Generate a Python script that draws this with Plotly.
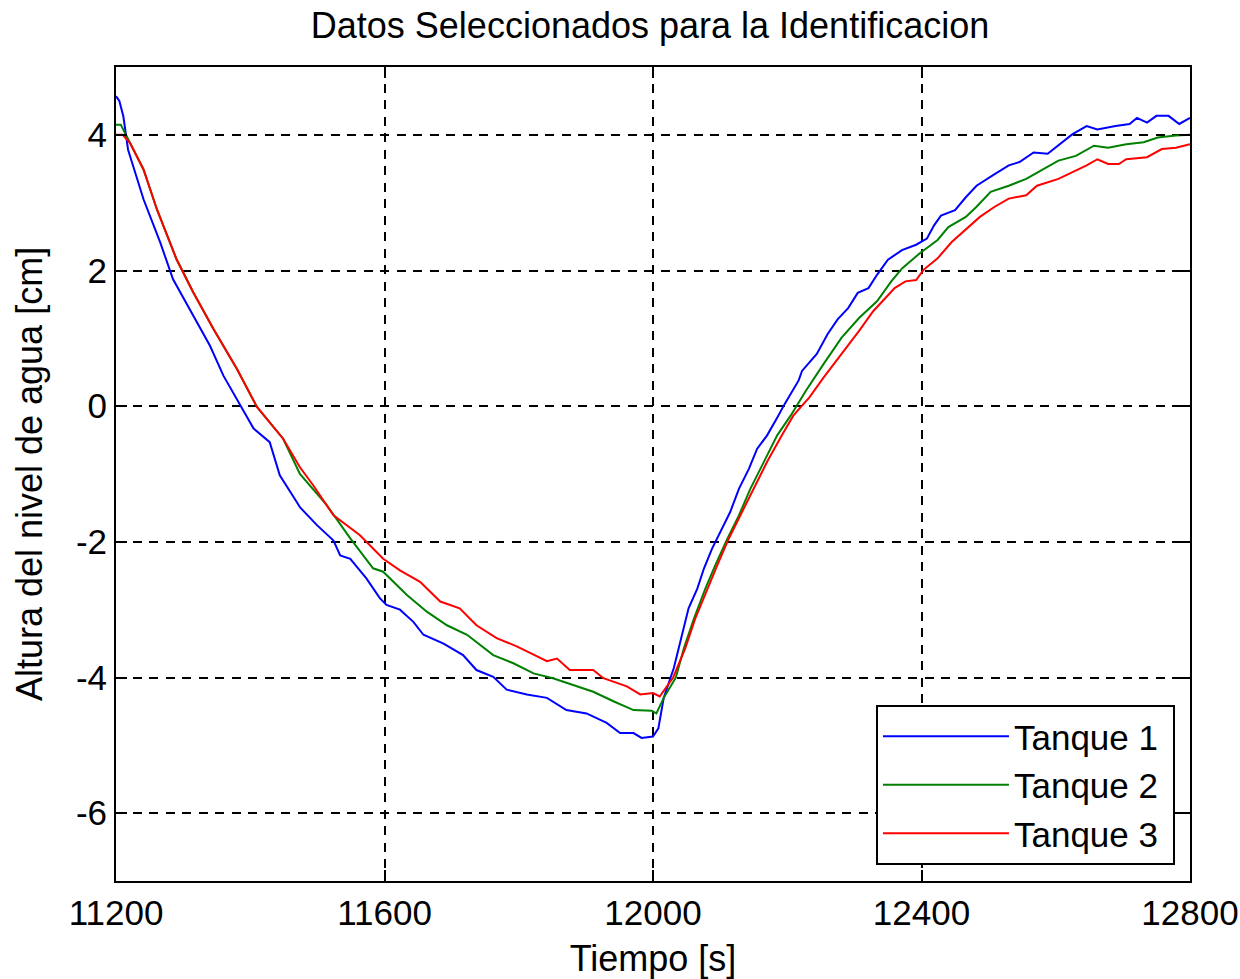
import plotly.graph_objects as go

# ---- data ----
t1_x = [11200, 11205, 11211, 11218, 11241, 11266, 11285, 11310, 11340, 11360, 11385, 11405, 11429, 11444,
        11469, 11474, 11499, 11524, 11534, 11549, 11573, 11593, 11603, 11623, 11643, 11658, 11688, 11717,
        11737, 11762, 11782, 11812, 11842, 11871, 11901, 11931, 11951, 11971, 11983, 12000, 12008, 12016,
        12031, 12043, 12053, 12066, 12076, 12088, 12101, 12115, 12128, 12143, 12155, 12164, 12170, 12185,
        12196, 12217, 12222, 12244, 12260, 12275, 12291, 12305, 12321, 12334, 12350, 12371, 12392, 12408,
        12419, 12429, 12450, 12466, 12482, 12509, 12530, 12546, 12567, 12588, 12609, 12625, 12646, 12662,
        12689, 12710, 12721, 12736, 12750, 12768, 12784, 12800]
t1_y = [4.57, 4.50, 4.27, 3.78, 3.05, 2.41, 1.87, 1.43, 0.89, 0.45, 0.01, -0.33, -0.53, -1.02,
        -1.41, -1.49, -1.75, -1.98, -2.20, -2.25, -2.54, -2.83, -2.93, -3.00, -3.18, -3.37, -3.50, -3.67,
        -3.89, -3.99, -4.18, -4.25, -4.30, -4.48, -4.53, -4.67, -4.82, -4.82, -4.89, -4.87, -4.75, -4.30,
        -3.86, -3.37, -2.98, -2.69, -2.39, -2.10, -1.85, -1.56, -1.22, -0.92, -0.63, -0.50, -0.43, -0.17,
        0.03, 0.38, 0.52, 0.77, 1.06, 1.28, 1.45, 1.67, 1.74, 1.94, 2.16, 2.30, 2.38, 2.47,
        2.67, 2.81, 2.89, 3.08, 3.25, 3.42, 3.55, 3.60, 3.74, 3.72, 3.89, 4.01, 4.13, 4.08,
        4.13, 4.16, 4.25, 4.18, 4.28, 4.28, 4.16, 4.25]

t2_x = [11200, 11207, 11221, 11241, 11261, 11290, 11315, 11345, 11380, 11410, 11449, 11474, 11514, 11549,
        11583, 11598, 11633, 11663, 11693, 11723, 11762, 11792, 11822, 11851, 11881, 11911, 11941, 11971,
        11998, 12005, 12016, 12034, 12046, 12061, 12078, 12093, 12111, 12128, 12145, 12165, 12185, 12205,
        12215, 12228, 12254, 12281, 12307, 12334, 12355, 12371, 12397, 12424, 12440, 12466, 12482, 12503,
        12530, 12556, 12577, 12604, 12630, 12657, 12678, 12705, 12731, 12752, 12779, 12800]
t2_y = [4.15, 4.15, 3.88, 3.49, 2.90, 2.17, 1.68, 1.14, 0.55, -0.01, -0.48, -1.00, -1.46, -1.95,
        -2.39, -2.44, -2.78, -3.03, -3.23, -3.37, -3.67, -3.79, -3.94, -4.01, -4.11, -4.21, -4.35, -4.48,
        -4.49, -4.53, -4.30, -4.00, -3.57, -3.13, -2.69, -2.34, -1.95, -1.61, -1.22, -0.82, -0.43, -0.14,
        0.02, 0.23, 0.62, 1.01, 1.30, 1.55, 1.84, 2.03, 2.25, 2.45, 2.64, 2.79, 2.94, 3.16,
        3.25, 3.35, 3.47, 3.62, 3.69, 3.84, 3.81, 3.86, 3.89, 3.96, 3.99, 4.00]

t3_x = [11200, 11210, 11221, 11241, 11261, 11290, 11315, 11345, 11380, 11410, 11449, 11474, 11494, 11524,
        11563, 11598, 11623, 11653, 11683, 11712, 11737, 11767, 11797, 11842, 11857, 11876, 11911, 11926,
        11961, 11981, 12000, 12010, 12030, 12048, 12063, 12081, 12096, 12113, 12130, 12150, 12170, 12192,
        12209, 12224, 12233, 12254, 12281, 12307, 12328, 12360, 12376, 12392, 12403, 12424, 12445, 12466,
        12487, 12509, 12530, 12556, 12572, 12604, 12625, 12646, 12662, 12678, 12694, 12705, 12736, 12758,
        12779, 12800]
t3_y = [4.00, 4.00, 3.88, 3.49, 2.90, 2.17, 1.68, 1.14, 0.55, -0.01, -0.48, -0.90, -1.17, -1.61,
        -1.90, -2.25, -2.42, -2.59, -2.88, -2.98, -3.23, -3.42, -3.54, -3.76, -3.72, -3.89, -3.89, -4.01,
        -4.13, -4.25, -4.23, -4.28, -4.00, -3.57, -3.13, -2.69, -2.34, -1.95, -1.61, -1.22, -0.82, -0.43,
        -0.14, 0.03, 0.13, 0.42, 0.77, 1.11, 1.40, 1.74, 1.84, 1.86, 2.01, 2.18, 2.42, 2.60,
        2.79, 2.94, 3.06, 3.11, 3.25, 3.35, 3.45, 3.55, 3.64, 3.57, 3.57, 3.64, 3.67, 3.79,
        3.81, 3.86]

series_names = ["Tanque 1", "Tanque 2", "Tanque 3"]
series_colors = ["#0000FF", "#008000", "#FF0000"]
x_ticks = [11200, 11600, 12000, 12400, 12800]
y_ticks = [-6, -4, -2, 0, 2, 4]

FONT = "Liberation Sans, Arial, sans-serif"

fig = go.Figure()
for xs, ys, name, col in zip([t1_x, t2_x, t3_x], [t1_y, t2_y, t3_y], series_names, series_colors):
    # trailing no-break space gives the legend box its right-hand padding
    fig.add_trace(go.Scatter(x=xs, y=ys, mode="lines", name=name + "\u00a0",
                             line=dict(color=col, width=2)))

axis_common = dict(
    showline=True, linecolor="black", linewidth=2, mirror="ticks",
    ticks="inside", ticklen=11, tickwidth=2, tickcolor="black",
    showgrid=True, gridcolor="black", gridwidth=2, griddash="9px,7.5px",
    zeroline=False, tickfont=dict(family=FONT, size=35, color="black"),
    ticklabeloverflow="allow",
)

fig.update_layout(
    width=1240, height=979,
    paper_bgcolor="white", plot_bgcolor="white",
    margin=dict(l=116, r=50, t=67, b=98, autoexpand=False),
    title=dict(text="Datos Seleccionados para la Identificacion",
               font=dict(family=FONT, size=36, color="black"),
               x=650 / 1240, xanchor="center", y=1 - 25 / 979, yanchor="middle", yref="container"),
    xaxis=dict(range=[11200, 12800], tickvals=x_ticks, ticktext=[str(v) for v in x_ticks],
               title=dict(text="Tiempo [s]", font=dict(family=FONT, size=36, color="black"), standoff=18),
               **axis_common),
    yaxis=dict(range=[-7, 5], tickvals=y_ticks, ticktext=[str(v) for v in y_ticks],
               title=dict(text="Altura del nivel de agua [cm]", font=dict(family=FONT, size=36, color="black"), standoff=22),
               **axis_common),
    legend=dict(x=0.986, y=0.0197, xanchor="right", yanchor="bottom",
                bgcolor="white", bordercolor="black", borderwidth=2,
                font=dict(family=FONT, size=35, color="black"), itemwidth=126),
    showlegend=True,
)

fig.write_html("out.html",
               config={"displayModeBar": False},
               post_script="document.body.style.margin='0';document.body.style.padding='0';")
